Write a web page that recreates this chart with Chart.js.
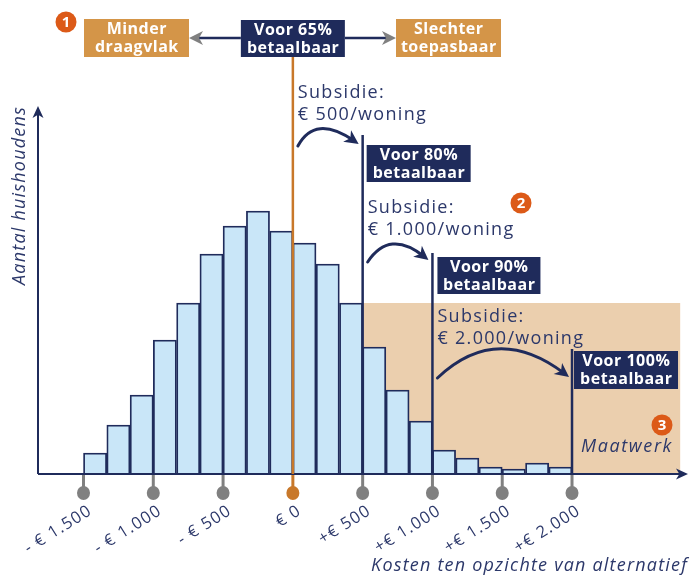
<!DOCTYPE html>
<html lang="nl">
<head>
<meta charset="utf-8">
<title>Kosten ten opzichte van alternatief</title>
<script src="https://cdn.jsdelivr.net/npm/chart.js@4/dist/chart.umd.min.js"></script>
<style>
  html, body { margin: 0; padding: 0; background: #ffffff; }
  #wrap { width: 697px; height: 580px; }
</style>
</head>
<body>
<div id="wrap"><canvas id="chart" width="697" height="580"></canvas></div>
<script>
// Histogram bins (centre of each € 166,67 wide bin) and number of households
const binCenters = [-1417, -1250, -1083, -917, -750, -583, -417, -250, -83, 83, 250, 417,
                    583, 750, 917, 1083, 1250, 1417, 1583, 1750, 1917];
const households = [21, 49, 79, 134, 171, 220, 248, 263, 243, 231, 210, 171,
                    127, 84, 53, 24, 16, 7, 5, 11, 7];

// Axis ticks
const tickValues = [-1500, -1000, -500, 0, 500, 1000, 1500, 2000];
const tickLabels = ['- € 1.500', '- € 1.000', '- € 500', '€ 0', '+€ 500', '+€ 1.000', '+€ 1.500', '+€ 2.000'];

// Affordability thresholds and subsidies
const thresholds = [0, 500, 1000, 2000];
const affordLabels = ['Voor 65%', 'Voor 80%', 'Voor 90%', 'Voor 100%'];
const subsidyLabels = ['€ 500/woning', '€ 1.000/woning', '€ 2.000/woning'];
const thresholdLineTops = [null, 339, 221, 125];

// "Maatwerk" zone
const maatwerkFrom = 500;
const maatwerkTo = 2775;
const maatwerkLevel = 171;

const NAVY = '#1f2b5b';
const TEXT = '#2c386a';
const ORANGE_BOX = '#d49548';
const ORANGE_LINE = '#c8782a';
const BADGE = '#dc5a18';
const BEIGE = '#ebcfae';
const BAR = '#c9e6f8';
const GREY = '#808080';
const FAMILY = "'Open Sans', 'Noto Sans', sans-serif";

function text(ctx, s, x, y, opts) {
  ctx.save();
  ctx.font = opts.font;
  ctx.fillStyle = opts.color || TEXT;
  ctx.textAlign = opts.align || 'left';
  ctx.textBaseline = opts.baseline || 'alphabetic';
  ctx.letterSpacing = (opts.spacing || 0) + 'px';
  ctx.fillText(s, x, y);
  ctx.restore();
}

function arrowHead(ctx, x, y, angle, len, half) {
  const c = Math.cos(angle), s = Math.sin(angle);
  const bx = x - len * c, by = y - len * s;
  ctx.beginPath();
  ctx.moveTo(x, y);
  ctx.lineTo(bx + half * s, by - half * c);
  ctx.lineTo(x - len * 0.72 * c, y - len * 0.72 * s);
  ctx.lineTo(bx - half * s, by + half * c);
  ctx.closePath();
  ctx.fill();
}

function curvedArrow(ctx, p0, cp, p2) {
  const ang = Math.atan2(p2[1] - cp[1], p2[0] - cp[0]);
  ctx.save();
  ctx.strokeStyle = NAVY;
  ctx.fillStyle = NAVY;
  ctx.lineWidth = 3;
  ctx.lineCap = 'round';
  ctx.beginPath();
  ctx.moveTo(p0[0], p0[1]);
  ctx.quadraticCurveTo(cp[0], cp[1], p2[0] - 6 * Math.cos(ang), p2[1] - 6 * Math.sin(ang));
  ctx.stroke();
  arrowHead(ctx, p2[0], p2[1], ang, 14, 7);
  ctx.restore();
}

function box(ctx, x, y, w, h, fill, line1, line2) {
  ctx.save();
  ctx.fillStyle = fill;
  ctx.fillRect(x, y, w, h);
  ctx.restore();
  const f = 'bold 16px ' + FAMILY;
  text(ctx, line1, x + w / 2 + 0.3, y + 14.5, { font: f, color: '#ffffff', align: 'center', spacing: 0.5 });
  text(ctx, line2, x + w / 2 + 0.3, y + 32.5, { font: f, color: '#ffffff', align: 'center', spacing: 0.5 });
}

function badge(ctx, x, y, n) {
  ctx.save();
  ctx.fillStyle = BADGE;
  ctx.beginPath();
  ctx.arc(x, y, 10.5, 0, Math.PI * 2);
  ctx.fill();
  ctx.restore();
  text(ctx, String(n), x, y + 1, { font: 'bold 15px ' + FAMILY, color: '#ffffff', align: 'center', baseline: 'middle' });
}

const zonePlugin = {
  id: 'zone',
  beforeDraw(chart) {
    chart.ctx.letterSpacing = '1.2px';
  },
  beforeDatasetsDraw(chart) {
    const { ctx, scales: { x, y } } = chart;
    ctx.save();
    ctx.fillStyle = BEIGE;
    const left = x.getPixelForValue(maatwerkFrom);
    const top = y.getPixelForValue(maatwerkLevel);
    ctx.fillRect(left, top, x.getPixelForValue(maatwerkTo) - left, y.getPixelForValue(0) - top);
    ctx.restore();
  }
};

const annotationPlugin = {
  id: 'annotations',
  afterDatasetsDraw(chart) {
    const { ctx, scales: { x, y }, chartArea } = chart;
    const X = v => x.getPixelForValue(v);
    const Y = v => y.getPixelForValue(v);
    const base = Y(0);
    const left = chartArea.left;
    const right = chartArea.right;

    ctx.save();
    // axes with arrow heads
    ctx.strokeStyle = NAVY;
    ctx.fillStyle = NAVY;
    ctx.lineWidth = 2;
    ctx.beginPath();
    ctx.moveTo(left, base);
    ctx.lineTo(left, chartArea.top + 6);
    ctx.moveTo(left, base);
    ctx.lineTo(right - 6, base);
    ctx.stroke();
    arrowHead(ctx, left, chartArea.top, -Math.PI / 2, 12, 5.5);
    arrowHead(ctx, right, base, 0, 12, 5.5);

    // tick stems and dots
    tickValues.forEach(v => {
      const px = X(v);
      const col = v === 0 ? ORANGE_LINE : GREY;
      ctx.strokeStyle = col;
      ctx.fillStyle = col;
      ctx.lineWidth = 3;
      ctx.beginPath();
      ctx.moveTo(px, base + 1);
      ctx.lineTo(px, base + 18);
      ctx.stroke();
      ctx.beginPath();
      ctx.ellipse(px, base + 19, 6.5, 7, 0, 0, Math.PI * 2);
      ctx.fill();
    });

    // threshold lines
    const x0 = X(thresholds[0]);
    ctx.strokeStyle = ORANGE_LINE;
    ctx.lineWidth = 2.5;
    ctx.beginPath();
    ctx.moveTo(x0, 57);
    ctx.lineTo(x0, base);
    ctx.stroke();
    ctx.strokeStyle = NAVY;
    for (let i = 1; i < thresholds.length; i++) {
      const px = X(thresholds[i]);
      ctx.beginPath();
      ctx.moveTo(px, Y(thresholdLineTops[i]));
      ctx.lineTo(px, base);
      ctx.stroke();
    }

    // header: current situation and its two consequences
    ctx.lineWidth = 2.5;
    ctx.beginPath();
    ctx.moveTo(x0 - 52, 38);
    ctx.lineTo(195, 38);
    ctx.moveTo(x0 + 52, 38);
    ctx.lineTo(390, 38);
    ctx.stroke();
    arrowHead(ctx, 189, 38, Math.PI, 14, 7);
    arrowHead(ctx, 396, 38, 0, 14, 7);
    ctx.restore();

    box(ctx, 84, 19, 105, 38, ORANGE_BOX, 'Minder', 'draagvlak');
    box(ctx, x0 - 52, 20, 104, 37, NAVY, affordLabels[0], 'betaalbaar');
    box(ctx, 396, 19, 105, 38, ORANGE_BOX, 'Slechter', 'toepasbaar');

    // subsidy steps
    const x500 = X(thresholds[1]);
    const x1000 = X(thresholds[2]);
    const x2000 = X(thresholds[3]);
    const sf = '18px ' + FAMILY;
    text(ctx, 'Subsidie:', x0 + 5, 98, { font: sf, spacing: 1.3 });
    text(ctx, subsidyLabels[0], x0 + 5, 120, { font: sf, spacing: 1.3 });
    curvedArrow(ctx, [x0 + 5, 146], [x0 + 22, 114], [x500 - 4, 144]);
    box(ctx, x500 + 4, 145, 104, 37, NAVY, affordLabels[1], 'betaalbaar');

    text(ctx, 'Subsidie:', x500 + 5, 213, { font: sf, spacing: 1.3 });
    text(ctx, subsidyLabels[1], x500 + 5, 235, { font: sf, spacing: 1.3 });
    curvedArrow(ctx, [x500 + 5, 262], [x500 + 27, 229], [x1000 - 4, 260]);
    box(ctx, x1000 + 5, 257, 103, 37, NAVY, affordLabels[2], 'betaalbaar');

    text(ctx, 'Subsidie:', x1000 + 5, 322, { font: sf, spacing: 1.3 });
    text(ctx, subsidyLabels[2], x1000 + 5, 344, { font: sf, spacing: 1.3 });
    curvedArrow(ctx, [x1000 + 5, 378], [x1000 + 64, 322], [x2000 - 3, 377]);
    box(ctx, x2000 + 2, 351, 104, 38, NAVY, affordLabels[3], 'betaalbaar');

    text(ctx, 'Maatwerk', 673, 452, { font: 'italic 18px ' + FAMILY, align: 'right', spacing: 1.6 });

    badge(ctx, 66, 22, 1);
    badge(ctx, 521, 203, 2);
    badge(ctx, 662, 425, 3);
  }
};

const points = binCenters.map((c, i) => ({ x: c, y: households[i] }));

new Chart(document.getElementById('chart'), {
  type: 'bar',
  data: {
    datasets: [{
      label: 'Aantal huishoudens',
      data: points,
      backgroundColor: BAR,
      borderColor: NAVY,
      borderWidth: 1.8,
      barPercentage: 1,
      categoryPercentage: 1
    }]
  },
  options: {
    responsive: false,
    animation: false,
    devicePixelRatio: 1,
    layout: { padding: { top: 106, right: 9, bottom: 3, left: 0 } },
    plugins: {
      legend: { display: false },
      tooltip: { enabled: false }
    },
    scales: {
      x: {
        type: 'linear',
        offset: false,
        min: -1826,
        max: 2831,
        afterBuildTicks: scale => { scale.ticks = tickValues.map(v => ({ value: v })); },
        afterFit: scale => { scale.height = 103; scale.paddingLeft = 0; scale.paddingRight = 0; },
        grid: { display: false, drawTicks: false, offset: false },
        border: { display: false },
        ticks: {
          autoSkip: false,
          minRotation: 32,
          maxRotation: 32,
          padding: 27,
          labelOffset: 7,
          color: TEXT,
          font: { family: FAMILY, size: 16.5 },
          callback: value => tickLabels[tickValues.indexOf(value)]
        },
        title: {
          display: true,
          text: 'Kosten ten opzichte van alternatief',
          align: 'end',
          color: TEXT,
          padding: { top: 0, bottom: 0 },
          font: { family: FAMILY, size: 18, style: 'italic' }
        }
      },
      y: {
        min: 0,
        max: 368,
        afterFit: scale => { scale.width = 38; scale.paddingTop = 0; scale.paddingBottom = 0; },
        grid: { display: false },
        border: { display: false },
        ticks: { display: false },
        title: {
          display: true,
          text: 'Aantal huishoudens',
          align: 'end',
          color: TEXT,
          padding: { top: 9, bottom: 0 },
          font: { family: FAMILY, size: 18, style: 'italic' }
        }
      }
    }
  },
  plugins: [zonePlugin, annotationPlugin]
});
</script>
</body>
</html>
